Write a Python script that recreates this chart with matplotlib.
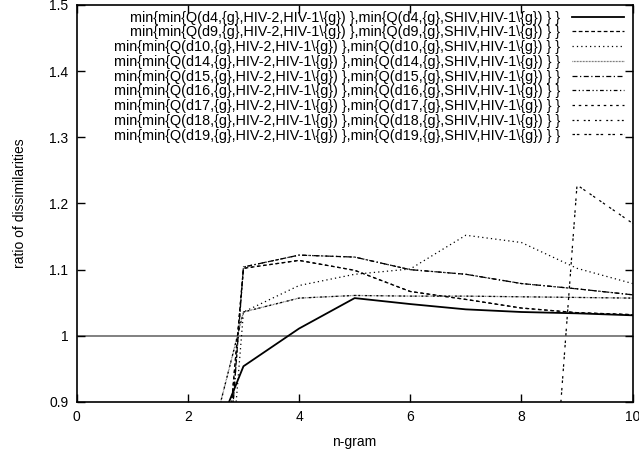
import numpy as np
import matplotlib
matplotlib.use("Agg")
import matplotlib.pyplot as plt

plt.rcParams['font.family'] = ['Liberation Sans', 'DejaVu Sans']

# n-gram sizes
ngram = [1, 2, 3, 4, 5, 6, 7, 8, 9, 10]

# ratio of dissimilarities (values below 0.9 are clipped)
d4 = [0.60, 0.746, 0.954, 1.011, 1.057, 1.048, 1.040, 1.036, 1.034, 1.031]
d9 = [0.10, 0.150, 1.102, 1.114, 1.099, 1.067, 1.055, 1.042, 1.035, 1.032]
d10 = [0.00, 0.000, 1.036, 1.076, 1.093, 1.101, 1.152, 1.141, 1.102, 1.079]
d14 = [0.50, 0.704, 1.036, 1.057, 1.061, 1.060, 1.060, 1.059, 1.058, 1.057]
d15 = [0.00, 0.000, 1.104, 1.122, 1.119, 1.100, 1.093, 1.079, 1.071, 1.062]
d16 = [0.00, 0.000, 1.104, 1.122, 1.119, 1.100, 1.093, 1.079, 1.071, 1.062]
d17 = [0.10, 0.150, 1.102, 1.114, 1.099, 1.067, 1.055, 1.042, 1.035, 1.032]
d18 = [0.50, 0.704, 1.036, 1.057, 1.061, 1.060, 1.060, 1.059, 1.058, 1.057]
d19 = [0.00, 0.000, 0.000, 0.000, 0.000, 0.000, 0.000, 0.097, 1.228, 1.170]

names = ["d4", "d9", "d10", "d14", "d15", "d16", "d17", "d18", "d19"]
series = [d4, d9, d10, d14, d15, d16, d17, d18, d19]
styles = ["-", (0, (3, 2)), (0, (1, 2.5)), (0, (0.6, 0.6)), (0, (4, 2, 1, 2)),
          (0, (3, 2, 1, 2, 1, 2)), (0, (2, 3)), (0, (1.5, 2, 1.5, 4)), (0, (2, 1.5, 2, 4))]
widths = [1.3, 0.9, 0.9, 0.9, 0.9, 0.9, 0.9, 0.9, 0.9]
colors = ["black", "black", "black", "#555555", "black", "black", "black", "black", "black"]

fig = plt.figure(figsize=(6.39, 4.53), dpi=100)
ax = fig.add_axes([0.120, 0.1126, 0.870, 0.8764])

ax.axhline(1.0, color="#808080", lw=1.4, zorder=1)

for name, vals, ls, lw, c in zip(names, series, styles, widths, colors):
    label = ("min{min{Q(%s,{g},HIV-2,HIV-1\\{g}) },min{Q(%s,{g},SHIV,HIV-1\\{g}) } }"
             % (name, name))
    ax.plot(ngram, vals, ls=ls, lw=lw, color=c, label=label, zorder=2)

ax.set_xlim(0, 10)
ax.set_ylim(0.9, 1.5)
ax.set_xticks([0, 2, 4, 6, 8, 10])
ax.set_yticks([0.9, 1.0, 1.1, 1.2, 1.3, 1.4, 1.5])
ax.set_yticklabels(["0.9", "1", "1.1", "1.2", "1.3", "1.4", "1.5"])
ax.tick_params(direction="in", length=6, width=1, top=True, right=True,
               labelsize=10, pad=6)
for s in ax.spines.values():
    s.set_linewidth(1.2)

ax.set_xlabel("n-gram", fontsize=10, labelpad=8)
ax.set_ylabel("ratio of dissimilarities", fontsize=10, labelpad=16)

ax.legend(loc="upper right", frameon=False, markerfirst=False, fontsize=10.4,
          handlelength=3.6, labelspacing=0.05, borderaxespad=0.0,
          handletextpad=0.8, bbox_to_anchor=(0.995, 1.0))

fig.savefig("out.png", dpi=100)
